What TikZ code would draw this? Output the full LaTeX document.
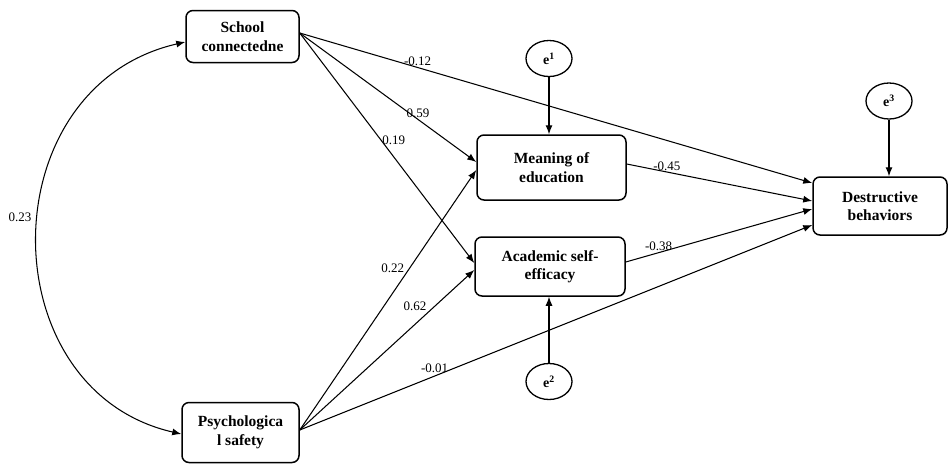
\documentclass[tikz,border=0pt]{standalone}
\usepackage{fontspec}
\setmainfont{Liberation Serif}
\usetikzlibrary{arrows.meta,shapes.geometric}
\begin{document}
\begin{tikzpicture}[x=1pt,y=-1pt,
 box/.style={draw,rounded corners=7pt,line width=1.5pt,align=center,font=\fontsize{15.5}{18.5}\selectfont\bfseries,inner sep=0pt},
 err/.style={draw,ellipse,line width=1.3pt,inner sep=0pt,minimum width=46pt,minimum height=36pt,font=\fontsize{14}{16}\selectfont\bfseries},
 pathar/.style={-{Latex[length=9pt,width=7pt]},line width=1.05pt},
 lab/.style={font=\fontsize{13}{15}\selectfont,inner sep=1pt}]
\useasboundingbox (0,0) rectangle (949,464);
\node[box,minimum width=113pt,minimum height=52pt] (sc) at (242.5,36.5) {School\\connectedne};
\node[box,minimum width=117pt,minimum height=60pt] (ps) at (240.5,432.5) {Psychologica\\l safety};
\node[box,minimum width=149pt,minimum height=65pt] (me) at (551.5,167.5) {Meaning of\\education};
\node[box,minimum width=150pt,minimum height=59pt] (ac) at (550,266.5) {Academic self-\\efficacy};
\node[box,minimum width=134pt,minimum height=58pt] (de) at (880,206) {Destructive\\behaviors};
\node[err] (e1) at (549,58.5) {e\textsuperscript{1}};
\node[err] (e2) at (549,381.5) {e\textsuperscript{2}};
\node[err] (e3) at (889,101) {e\textsuperscript{3}};
% error arrows
\draw[pathar] (e1.south) -- (e1.south |- me.north);
\draw[pathar] (e2.north) -- (e2.north |- ac.south);
\draw[pathar] (e3.south) -- (e3.south |- de.north);
% paths
\draw[pathar] ([yshift=3.5pt]sc.east) -- ([yshift=23pt]de.west) node[lab,pos=0.23,above] {-0.12};
\draw[pathar] ([yshift=3.5pt]sc.east) -- ([yshift=5.5pt]me.west) node[lab,pos=0.67,above] {0.59};
\draw[pathar] ([yshift=3.5pt]sc.east) -- ([yshift=3.5pt]ac.west) node[lab,pos=0.465,right] {0.19};
\draw[pathar] ([yshift=2.5pt]ps.east) -- ([yshift=-2.5pt]me.west) node[lab,pos=0.6,anchor=south east] {0.22};
\draw[pathar] ([yshift=2.5pt]ps.east) -- ([yshift=-3.5pt]ac.west) node[lab,pos=0.734,anchor=south east] {0.62};
\draw[pathar] ([yshift=2.5pt]ps.east) -- ([yshift=-19pt]de.west) node[lab,pos=0.263,above,yshift=2pt] {-0.01};
\draw[pathar] ([yshift=3.5pt]me.east) -- ([yshift=5pt]de.west) node[lab,pos=0.216,above] {-0.45};
\draw[pathar] ([yshift=4.5pt]ac.east) -- ([yshift=-3pt]de.west) node[lab,pos=0.176,above] {-0.38};
% covariance
\draw[{Latex[length=9pt,width=7pt]}-{Latex[length=9pt,width=7pt]},line width=1.05pt]
  ([yshift=-5.5pt]sc.west) .. controls (-11,87) and (-11,390) .. ([yshift=-1.5pt]ps.west);
\node[lab] (c23) at (20,217) {0.23};
\end{tikzpicture}
\end{document}
